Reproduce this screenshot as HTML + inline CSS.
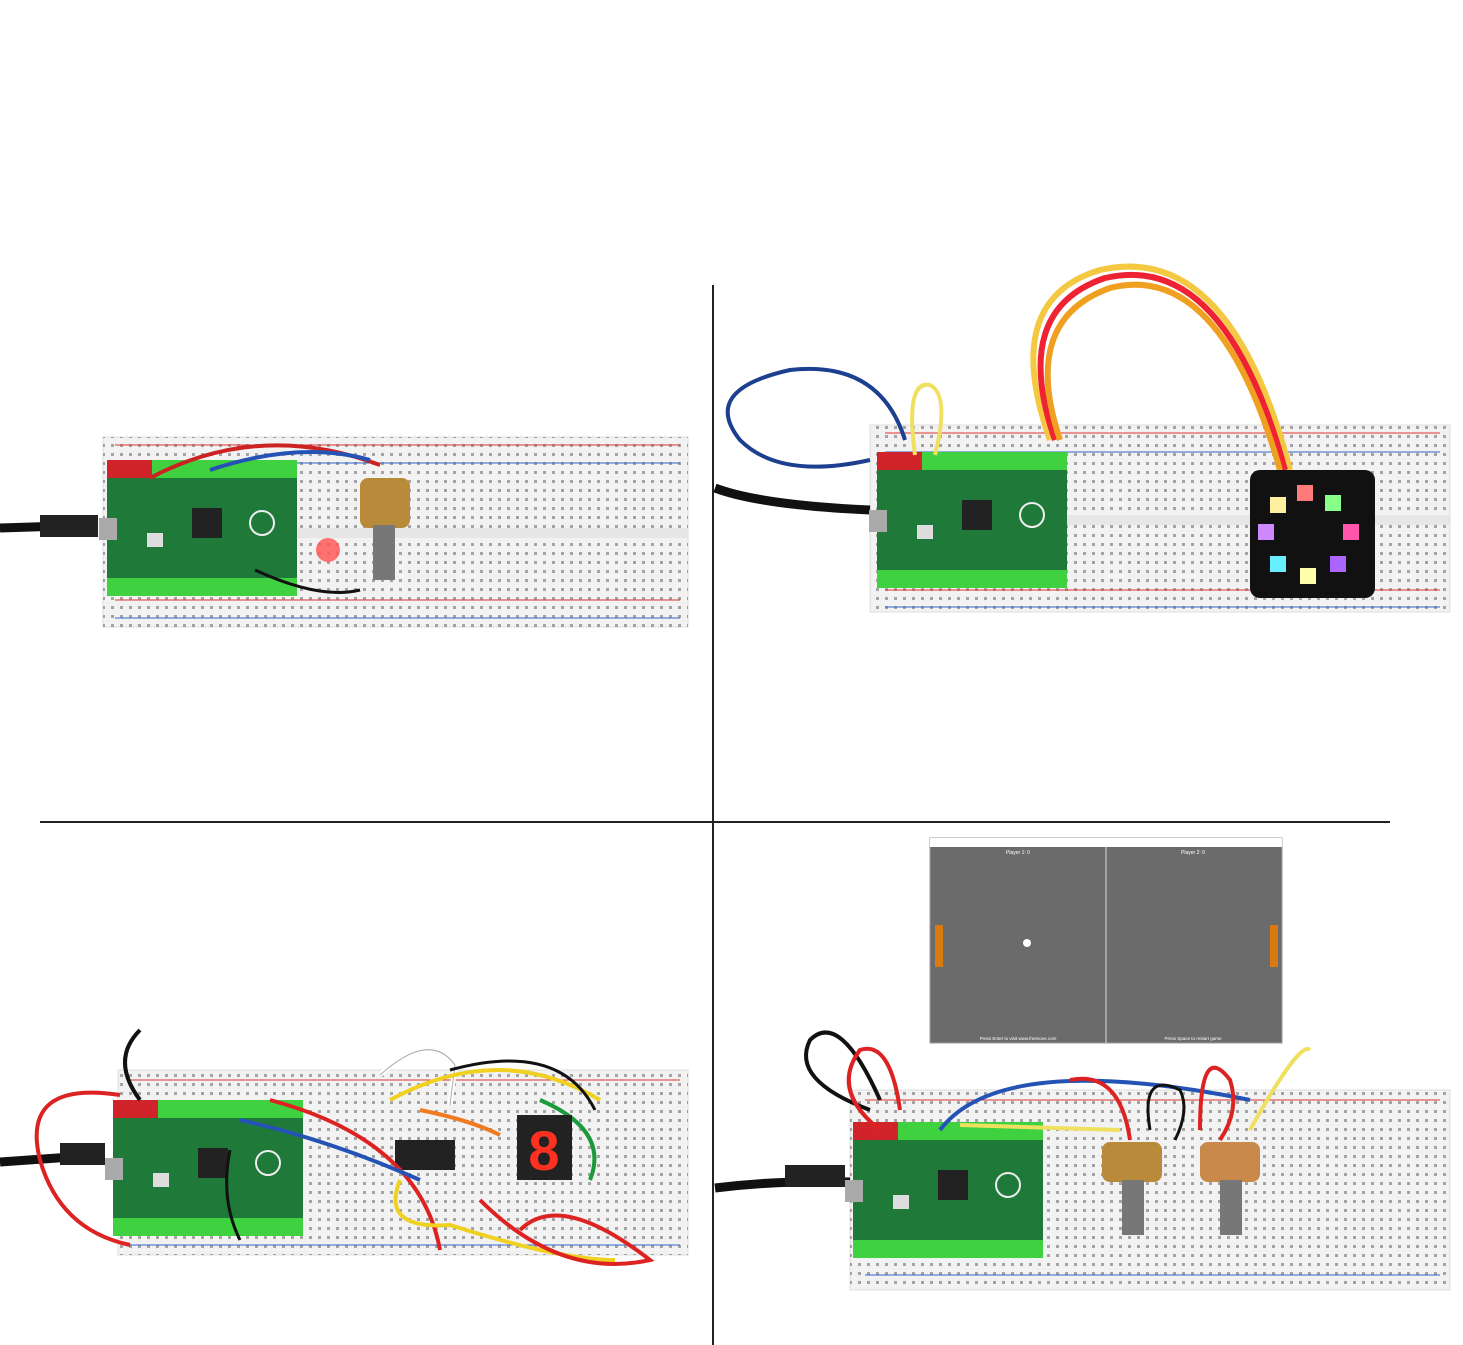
<!DOCTYPE html>
<html><head><meta charset="utf-8"><style>
html,body{margin:0;padding:0;background:#fff;}
svg{display:block;font-family:"Liberation Sans",sans-serif;}
</style></head><body>
<svg width="1463" height="1345" viewBox="0 0 1463 1345" xmlns="http://www.w3.org/2000/svg">
<defs>
<pattern id="holes" width="9" height="9" patternUnits="userSpaceOnUse"><rect x="3" y="3" width="3" height="3" fill="#555"/></pattern>
<g id="pico">
<rect x="0" y="0" width="190" height="100" fill="#1f7a3a"/>
<rect x="0" y="-18" width="190" height="18" fill="#3fd13f"/>
<rect x="0" y="100" width="190" height="18" fill="#3fd13f"/>
<rect x="0" y="-18" width="45" height="18" fill="#d0242a"/>
<rect x="85" y="30" width="30" height="30" fill="#222"/>
<circle cx="155" cy="45" r="12" fill="none" stroke="#eee" stroke-width="2"/>
<rect x="40" y="55" width="16" height="14" fill="#ddd"/>
<rect x="-8" y="40" width="18" height="22" fill="#aaa"/>
</g>
</defs>
<rect width="1463" height="1345" fill="#fff"/>
<!-- dividers -->
<line x1="713" y1="285" x2="713" y2="1345" stroke="#222" stroke-width="2"/>
<line x1="40" y1="822" x2="1390" y2="822" stroke="#222" stroke-width="2"/>

<!-- Q1 -->
<rect x="103" y="437" width="585" height="190" fill="#f2f2f2" stroke="#ddd"/>
<rect x="103" y="437" width="585" height="190" fill="url(#holes)" opacity="0.5"/>
<line x1="115" y1="445" x2="680" y2="445" stroke="#d33"/><line x1="115" y1="463" x2="680" y2="463" stroke="#36c"/>
<line x1="115" y1="600" x2="680" y2="600" stroke="#d33"/><line x1="115" y1="618" x2="680" y2="618" stroke="#36c"/>
<rect x="103" y="528" width="585" height="10" fill="#e6e6e6"/>
<path d="M0 528 L95 525" stroke="#111" stroke-width="9" fill="none"/>
<rect x="40" y="515" width="58" height="22" fill="#222"/>
<use href="#pico" x="107" y="478"/>
<path d="M150 478 Q260 420 380 465" stroke="#c22" stroke-width="4" fill="none"/>
<path d="M210 470 Q300 440 370 460" stroke="#2553b5" stroke-width="4" fill="none"/>
<rect x="360" y="478" width="50" height="50" rx="8" fill="#b98a3a"/>
<rect x="373" y="525" width="22" height="55" fill="#777"/>
<circle cx="328" cy="550" r="12" fill="#ff5a5a" opacity="0.85"/>
<path d="M255 570 Q320 600 360 590" stroke="#111" stroke-width="3" fill="none"/>

<!-- Q2 -->
<rect x="870" y="425" width="580" height="187" fill="#f2f2f2" stroke="#ddd"/>
<rect x="870" y="425" width="580" height="187" fill="url(#holes)" opacity="0.5"/>
<line x1="885" y1="433" x2="1440" y2="433" stroke="#d33"/><line x1="885" y1="452" x2="1440" y2="452" stroke="#36c"/>
<line x1="885" y1="590" x2="1440" y2="590" stroke="#d33"/><line x1="885" y1="607" x2="1440" y2="607" stroke="#36c"/>
<rect x="870" y="515" width="580" height="10" fill="#e6e6e6"/>
<path d="M715 488 Q760 505 870 510" stroke="#111" stroke-width="9" fill="none"/>
<use href="#pico" x="877" y="470"/>
<path d="M905 440 Q880 360 790 370 Q700 390 740 440 Q780 480 870 460" stroke="#1d3f8f" stroke-width="4" fill="none"/>
<path d="M915 455 Q905 380 930 385 Q950 395 935 455" stroke="#f0e060" stroke-width="4" fill="none"/>
<path d="M1050 440 Q1000 300 1100 270 Q1230 240 1290 470" stroke="#f5c842" stroke-width="6" fill="none"/>
<path d="M1055 440 Q1010 310 1105 278 Q1225 250 1285 470" stroke="#e23" stroke-width="6" fill="none"/>
<path d="M1060 440 Q1020 320 1110 288 Q1220 260 1280 470" stroke="#f0a020" stroke-width="6" fill="none"/>
<rect x="1250" y="470" width="125" height="128" rx="10" fill="#111"/>
<rect x="1297" y="485" width="16" height="16" fill="#ff7a7a"/>
<rect x="1325" y="495" width="16" height="16" fill="#8f8"/>
<rect x="1343" y="524" width="16" height="16" fill="#f5a"/>
<rect x="1330" y="556" width="16" height="16" fill="#a6f"/>
<rect x="1300" y="568" width="16" height="16" fill="#ffa"/>
<rect x="1270" y="556" width="16" height="16" fill="#6ef"/>
<rect x="1258" y="524" width="16" height="16" fill="#c8f"/>
<rect x="1270" y="497" width="16" height="16" fill="#fff0a0"/>

<!-- Q3 -->
<rect x="118" y="1070" width="570" height="185" fill="#f2f2f2" stroke="#ddd"/>
<rect x="118" y="1070" width="570" height="185" fill="url(#holes)" opacity="0.5"/>
<line x1="130" y1="1080" x2="680" y2="1080" stroke="#d33"/><line x1="130" y1="1245" x2="680" y2="1245" stroke="#36c"/>
<path d="M0 1162 L100 1155" stroke="#111" stroke-width="9" fill="none"/>
<rect x="60" y="1143" width="45" height="22" fill="#222"/>
<use href="#pico" x="113" y="1118"/>
<path d="M120 1095 Q20 1080 40 1160 Q60 1230 130 1245" stroke="#d22" stroke-width="4" fill="none"/>
<path d="M140 1100 Q110 1060 140 1030" stroke="#111" stroke-width="4" fill="none"/>
<rect x="395" y="1140" width="60" height="30" fill="#222"/>
<path d="M380 1075 Q430 1030 455 1065 L450 1105" stroke="#fff" stroke-width="5" fill="none"/>
<path d="M380 1075 Q430 1030 455 1065 L450 1105" stroke="#aaa" stroke-width="1" fill="none"/>
<path d="M270 1100 Q420 1140 440 1250" stroke="#d22" stroke-width="4" fill="none"/>
<path d="M240 1120 Q330 1140 420 1180" stroke="#2553b5" stroke-width="4" fill="none"/>
<path d="M390 1100 Q500 1040 600 1100" stroke="#f0d020" stroke-width="4" fill="none"/>
<path d="M450 1070 Q560 1040 595 1110" stroke="#111" stroke-width="3" fill="none"/>
<path d="M400 1180 Q380 1230 450 1225 Q560 1260 615 1260" stroke="#f0d020" stroke-width="4" fill="none"/>
<path d="M480 1200 Q560 1280 650 1260 Q560 1190 520 1230" stroke="#d22" stroke-width="4" fill="none"/>
<path d="M540 1100 Q610 1130 590 1180" stroke="#1a9a3a" stroke-width="4" fill="none"/>
<path d="M420 1110 Q470 1120 500 1135" stroke="#f07a20" stroke-width="4" fill="none"/>
<rect x="517" y="1115" width="55" height="65" fill="#222"/>
<text x="544" y="1170" font-size="56" fill="#ff3020" text-anchor="middle" font-weight="bold">8</text>
<path d="M230 1150 Q220 1200 240 1240" stroke="#111" stroke-width="3" fill="none"/>

<!-- Q4 -->
<rect x="930" y="838" width="352" height="205" fill="#6b6b6b" stroke="#999"/>
<rect x="930" y="838" width="352" height="9" fill="#fff"/>
<line x1="1106" y1="847" x2="1106" y2="1043" stroke="#ddd"/>
<text x="1018" y="854" font-size="5" fill="#fff" text-anchor="middle">Player 1: 0</text>
<text x="1193" y="854" font-size="5" fill="#fff" text-anchor="middle">Player 2: 0</text>
<rect x="935" y="925" width="8" height="42" fill="#d77a10"/>
<rect x="1270" y="925" width="8" height="42" fill="#d77a10"/>
<circle cx="1027" cy="943" r="4" fill="#fff"/>
<text x="1018" y="1040" font-size="4.5" fill="#fff" text-anchor="middle">Press Enter to visit www.freenove.com</text>
<text x="1193" y="1040" font-size="4.5" fill="#fff" text-anchor="middle">Press Space to restart game</text>
<rect x="850" y="1090" width="600" height="200" fill="#f2f2f2" stroke="#ddd"/>
<rect x="850" y="1090" width="600" height="200" fill="url(#holes)" opacity="0.5"/>
<line x1="865" y1="1100" x2="1440" y2="1100" stroke="#d33"/><line x1="865" y1="1275" x2="1440" y2="1275" stroke="#36c"/>
<path d="M715 1188 Q780 1180 850 1182" stroke="#111" stroke-width="9" fill="none"/>
<rect x="785" y="1165" width="60" height="22" fill="#222"/>
<use href="#pico" x="853" y="1140"/>
<path d="M870 1110 Q790 1080 810 1040 Q840 1010 880 1100" stroke="#111" stroke-width="4" fill="none"/>
<path d="M880 1130 Q830 1090 860 1050 Q890 1040 900 1110" stroke="#d22" stroke-width="4" fill="none"/>
<path d="M940 1130 Q1000 1050 1250 1100" stroke="#2553b5" stroke-width="4" fill="none"/>
<path d="M960 1125 L1120 1130" stroke="#f0e060" stroke-width="4" fill="none"/>
<path d="M1070 1080 Q1120 1070 1130 1140" stroke="#d22" stroke-width="4" fill="none"/>
<path d="M1150 1130 Q1140 1070 1180 1090 Q1190 1110 1175 1140" stroke="#111" stroke-width="3" fill="none"/>
<path d="M1200 1130 Q1200 1040 1230 1080 Q1240 1110 1220 1140" stroke="#d22" stroke-width="4" fill="none"/>
<path d="M1250 1130 Q1300 1040 1310 1050" stroke="#f0e060" stroke-width="4" fill="none"/>
<rect x="1102" y="1142" width="60" height="40" rx="8" fill="#b98a3a"/>
<rect x="1122" y="1180" width="22" height="55" fill="#777"/>
<rect x="1200" y="1142" width="60" height="40" rx="8" fill="#c8894a"/>
<rect x="1220" y="1180" width="22" height="55" fill="#777"/>
</svg>
</body></html>
